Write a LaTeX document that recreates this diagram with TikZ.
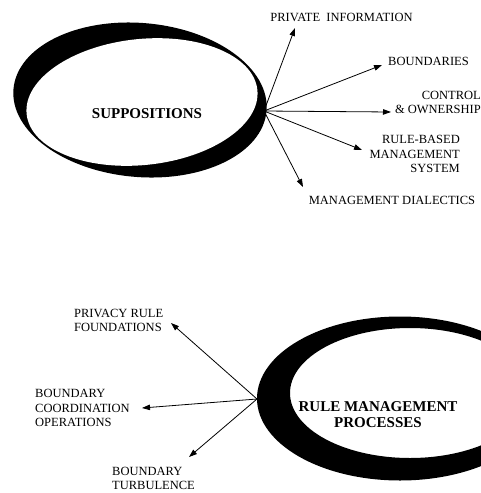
\documentclass[tikz,border=0pt]{standalone}
\usepackage{fontspec}
\setmainfont{Liberation Serif}
\usetikzlibrary{arrows.meta}

\begin{document}
\begin{tikzpicture}[x=1pt,y=-1pt,
    lab/.style={font=\fontsize{12.5}{14.5}\selectfont, inner sep=0pt},
    big/.style={font=\fontsize{15}{16}\selectfont\bfseries, inner sep=0pt, align=center},
    arr/.style={-{Triangle[length=8pt,width=5.5pt]}, line width=0.8pt}]
    \useasboundingbox (0,0) rectangle (480,493);

    % top ring
    \fill[rotate around={-5:(140,100)}] (140,100) ellipse [x radius=127pt, y radius=77pt];
    \fill[white, rotate around={6:(142,102)}] (142,102) ellipse [x radius=116pt, y radius=63pt];
    \node[big] (supp) at (147,114) {SUPPOSITIONS};

    \coordinate (S) at (264,111);
    \coordinate (S1) at (295,28);
    \coordinate (S2) at (382,65);
    \coordinate (S3) at (391,112);
    \coordinate (S4) at (362,150);
    \coordinate (S5) at (303,187);

    \node[lab] (privinfo) at (341.5,17) {PRIVATE\ \ INFORMATION};
    \node[lab, anchor=west] (bounds) at (388,61) {BOUNDARIES};
    \node[lab, anchor=east, align=right] (control) at (481,102.5) {CONTROL\\\& OWNERSHIP};
    \node[lab, anchor=east, align=right] (rulesys) at (460,154) {RULE-BASED\\MANAGEMENT\\SYSTEM};
    \node[lab] (dialect) at (392,200) {MANAGEMENT DIALECTICS};

    \foreach \t in {S1,S2,S3,S4,S5}
        \draw[arr] (S) -- (\t);

    % bottom ring
    \fill[even odd rule] (400,398.5) ellipse [x radius=143pt, y radius=82pt]
                         (410,393) ellipse [x radius=120pt, y radius=65pt];
    \node[big] (rmp) at (378,415) {RULE MANAGEMENT\\PROCESSES};

    \coordinate (R) at (257,399);
    \coordinate (R1) at (171,323);
    \coordinate (R2) at (142,408);
    \coordinate (R3) at (189,457);

    \node[lab, anchor=west, align=left] (privrule) at (74,320.5) {PRIVACY RULE\\FOUNDATIONS};
    \node[lab, anchor=west, align=left] (coord) at (35,408) {BOUNDARY\\COORDINATION\\OPERATIONS};
    \node[lab, anchor=west, align=left] (turb) at (112,478.5) {BOUNDARY\\TURBULENCE};

    \foreach \t in {R1,R2,R3}
        \draw[arr] (R) -- (\t);
\end{tikzpicture}
\end{document}
